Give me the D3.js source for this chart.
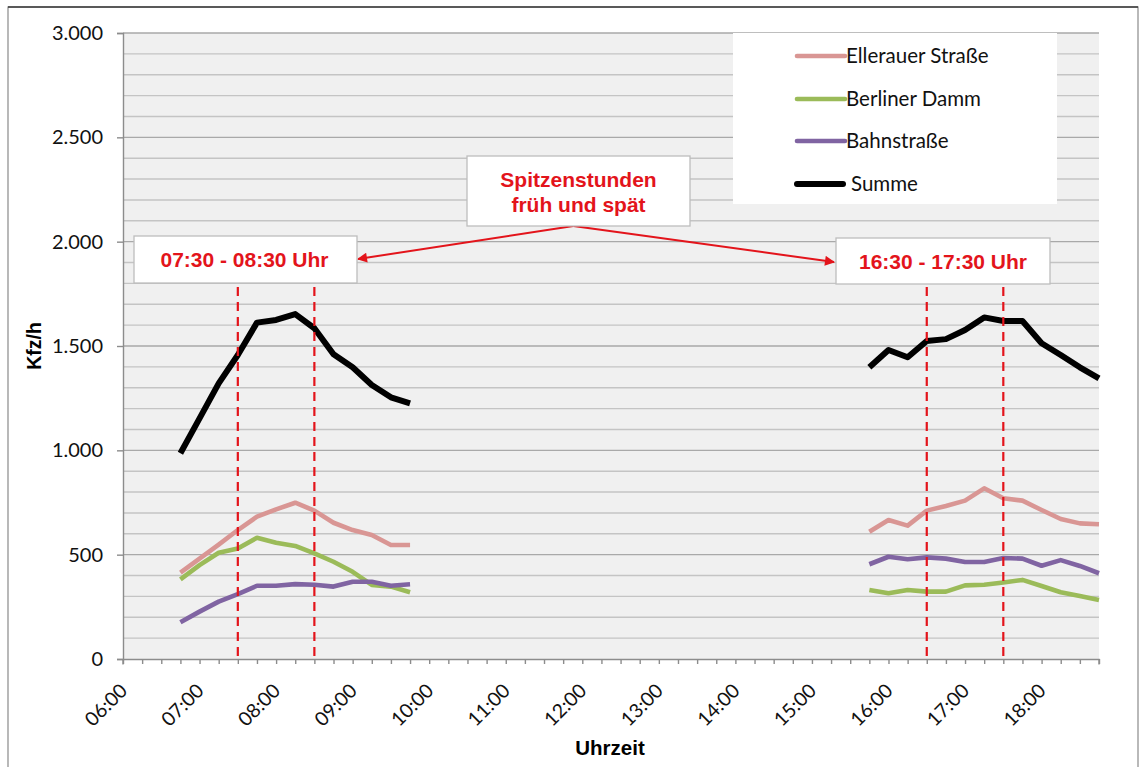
<!DOCTYPE html>
<html>
<head>
<meta charset="utf-8">
<script src="https://cdn.jsdelivr.net/npm/d3@7/dist/d3.min.js"></script>
<style>
  html, body { margin: 0; padding: 0; background: #fff; }
  svg { display: block; }
</style>
</head>
<body>
<svg id="chart" width="1142" height="767"></svg>
<script>
// Zählzeiten (15-Minuten-Intervalle), früh und spät
const timesMorning = ["06:45","07:00","07:15","07:30","07:45","08:00","08:15","08:30","08:45","09:00","09:15","09:30","09:45"];
const timesEvening = ["15:45","16:00","16:15","16:30","16:45","17:00","17:15","17:30","17:45","18:00","18:15","18:30","18:45"];

// Kfz/h je Querschnitt (erst früh, dann spät)
const ellerauer = [414, 481, 548, 618, 682, 717, 749, 711, 653, 618, 594, 546, 546,
                   610, 666, 639, 711, 733, 759, 818, 770, 759, 714, 671, 650, 646];
const berliner  = [382, 450, 509, 530, 581, 557, 542, 506, 466, 418, 355, 347, 320,
                   331, 315, 331, 323, 323, 353, 356, 367, 379, 350, 320, 302, 283];
const bahn      = [176, 227, 275, 311, 351, 351, 359, 356, 347, 370, 370, 351, 358,
                   454, 490, 478, 487, 481, 465, 465, 484, 481, 447, 474, 446, 411];
const summe     = [986, 1153, 1321, 1457, 1612, 1625, 1653, 1585, 1460, 1398, 1313, 1254, 1225,
                   1398, 1481, 1446, 1524, 1533, 1577, 1637, 1620, 1620, 1513, 1457, 1398, 1345];

const seriesNames  = ["Ellerauer Straße", "Berliner Damm", "Bahnstraße", "Summe"];
const seriesColors = ["#d99694", "#9bbb59", "#8064a2", "#000000"];

// Spitzenstunden
const peakMorning = ["07:30", "08:30"];
const peakEvening = ["16:30", "17:30"];
const peakLabels  = ["07:30 - 08:30 Uhr", "16:30 - 17:30 Uhr"];
const noteLines   = ["Spitzenstunden", "früh und spät"];

const yTicks = [0, 500, 1000, 1500, 2000, 2500, 3000];
const xDomain = ["06:00", "18:45"];

const parse = d3.timeParse("%H:%M");
const de = d3.formatLocale({decimal: ",", thousands: ".", grouping: [3], currency: ["", " €"]});
const fmtY = de.format(",d");
const fmtX = d3.timeFormat("%H:%M");

const svg = d3.select("#chart");
const plotL = 123, plotT = 33, plotR = 1099, plotB = 659;

const x = d3.scaleTime().domain(xDomain.map(parse)).range([plotL, plotR]);
const y = d3.scaleLinear().domain([0, 3000]).range([plotB, plotT]);

// äußerer Rahmen
svg.append("rect").attr("x", 8).attr("y", 7).attr("width", 1130).attr("height", 780)
  .attr("fill", "#fff").attr("stroke", "#8a8a8a").attr("stroke-width", 1.2);
svg.append("line").attr("x1", 8).attr("x2", 1138).attr("y1", 7).attr("y2", 7)
  .attr("stroke", "#3a3a3a").attr("stroke-width", 1.4);

// Zeichenfläche
svg.append("rect").attr("x", plotL).attr("y", plotT)
  .attr("width", plotR - plotL).attr("height", plotB - plotT).attr("fill", "#f0f0f0");

// Gitternetz alle 100 Kfz/h
const gridVals = d3.range(100, 3001, 100);
svg.append("g").selectAll("line").data(gridVals).join("line")
  .attr("x1", plotL).attr("x2", plotR)
  .attr("y1", d => y(d)).attr("y2", d => y(d))
  .attr("stroke", d => d % 500 === 0 ? "#a9a9a9" : "#c4c4c4")
  .attr("stroke-width", 1.4);

// y-Achse
const yAxis = d3.axisLeft(y).tickValues(yTicks).tickFormat(fmtY).tickSize(6).tickPadding(14);
const gy = svg.append("g").attr("transform", `translate(${plotL},0)`).call(yAxis);
gy.select(".domain").attr("stroke", "#8c8c8c").attr("stroke-width", 1.4);
gy.selectAll(".tick line").attr("stroke", "#8c8c8c").attr("stroke-width", 1.4);
gy.selectAll(".tick text").attr("font-family", "Lato, 'Open Sans', sans-serif")
  .attr("font-size", 20).attr("fill", "#111");

// x-Achse: Striche alle 15 Minuten, Beschriftung zu jeder vollen Stunde
const xAxis = d3.axisBottom(x).ticks(d3.timeMinute.every(15)).tickSize(5)
  .tickFormat(d => d.getMinutes() === 0 ? fmtX(d) : "");
const gx = svg.append("g").attr("transform", `translate(0,${plotB})`).call(xAxis);
gx.select(".domain").attr("stroke", "#8c8c8c").attr("stroke-width", 1.4).attr("d", `M${plotL},0.5V5.5M${plotL},0.5H${plotR}V5.5`);
gx.selectAll(".tick line").attr("stroke", "#8c8c8c").attr("stroke-width", 1.4);
gx.selectAll(".tick text")
  .attr("font-family", "Lato, 'Open Sans', sans-serif").attr("font-size", 19.5).attr("fill", "#111")
  .attr("text-anchor", "end").attr("dy", 0).attr("y", 0)
  .attr("transform", "translate(5,33) rotate(-45)");

// Achsentitel
svg.append("text").attr("transform", `translate(41,${(plotT + plotB) / 2}) rotate(-90)`)
  .attr("text-anchor", "middle").attr("font-family", "'Liberation Sans', Arial, sans-serif")
  .attr("font-weight", "bold").attr("font-size", 19.5).text("Kfz/h");
svg.append("text").attr("x", (plotL + plotR) / 2 - 1).attr("y", 755)
  .attr("text-anchor", "middle").attr("font-family", "'Liberation Sans', Arial, sans-serif")
  .attr("font-weight", "bold").attr("font-size", 20.5).text("Uhrzeit");

// Ganglinien
const series = [ellerauer, berliner, bahn, summe];
const line = d3.line().x(d => x(parse(d.t))).y(d => y(d.v));
const segments = [timesMorning, timesEvening];
series.forEach((vals, i) => {
  let offset = 0;
  segments.forEach(times => {
    const pts = times.map((t, j) => ({t, v: vals[offset + j]}));
    offset += times.length;
    svg.append("path").datum(pts).attr("d", line)
      .attr("fill", "none").attr("stroke", seriesColors[i])
      .attr("stroke-width", i === 3 ? 6 : 4.6).attr("stroke-linejoin", "round").attr("stroke-linecap", "butt");
  });
});

// Spitzenstunden: gestrichelte Markierungen
const red = "#e3141b";
[...peakMorning, ...peakEvening].forEach(t => {
  svg.append("line").attr("x1", x(parse(t))).attr("x2", x(parse(t)))
    .attr("y1", 287).attr("y2", plotB)
    .attr("stroke", red).attr("stroke-width", 2.2).attr("stroke-dasharray", "9,6");
});

// Legende
svg.append("rect").attr("x", 733).attr("y", plotT).attr("width", 324).attr("height", 171).attr("fill", "#fff");
const legY = [56, 99, 141, 184];
seriesNames.forEach((name, i) => {
  const g = svg.append("g");
  g.append("line").attr("x1", 797).attr("x2", i === 3 ? 843 : 845)
    .attr("y1", legY[i]).attr("y2", legY[i])
    .attr("stroke", seriesColors[i]).attr("stroke-width", i === 3 ? 6 : 4.6).attr("stroke-linecap", "round");
  g.append("text").attr("x", i === 3 ? 851 : 846).attr("y", legY[i] + 7)
    .attr("font-family", "Lato, 'Open Sans', sans-serif").attr("font-size", 20.5).attr("fill", "#111")
    .text(name);
});

// Hinweiskästen
function box(x0, y0, w, h) {
  svg.append("rect").attr("x", x0).attr("y", y0).attr("width", w).attr("height", h)
    .attr("fill", "#fff").attr("stroke", "#bdbdbd").attr("stroke-width", 1.3);
}
const noteFont = "'Liberation Sans', Arial, sans-serif";
const noteSize = 21;

// Pfeile von der Notiz zu den Zeitfenstern
const defs = svg.append("defs");
defs.append("marker").attr("id", "arrow").attr("viewBox", "0 0 10 10")
  .attr("refX", 9).attr("refY", 5).attr("markerWidth", 6.5).attr("markerHeight", 5)
  .attr("orient", "auto").attr("markerUnits", "strokeWidth")
  .append("path").attr("d", "M0,0L10,5L0,10z").attr("fill", red);

const noteCx = x(parse("11:53"));
const noteBottom = 226;
svg.append("line").attr("x1", noteCx).attr("y1", noteBottom).attr("x2", 358).attr("y2", 259)
  .attr("stroke", red).attr("stroke-width", 2).attr("marker-end", "url(#arrow)");
svg.append("line").attr("x1", noteCx).attr("y1", noteBottom).attr("x2", 834).attr("y2", 262)
  .attr("stroke", red).attr("stroke-width", 2).attr("marker-end", "url(#arrow)");

box(134, 236, 223, 47);
svg.append("text").attr("x", 244.5).attr("y", 267).attr("text-anchor", "middle")
  .attr("font-family", noteFont).attr("font-weight", "bold").attr("font-size", noteSize).attr("fill", red)
  .text(peakLabels[0]);

box(836, 238, 214, 46);
svg.append("text").attr("x", 943).attr("y", 269).attr("text-anchor", "middle")
  .attr("font-family", noteFont).attr("font-weight", "bold").attr("font-size", noteSize).attr("fill", red)
  .text(peakLabels[1]);

box(467, 156, 223, 70);
noteLines.forEach((s, i) => {
  svg.append("text").attr("x", 578.5).attr("y", 187 + i * 25).attr("text-anchor", "middle")
    .attr("font-family", noteFont).attr("font-weight", "bold").attr("font-size", noteSize).attr("fill", red)
    .text(s);
});
</script>
</body>
</html>
